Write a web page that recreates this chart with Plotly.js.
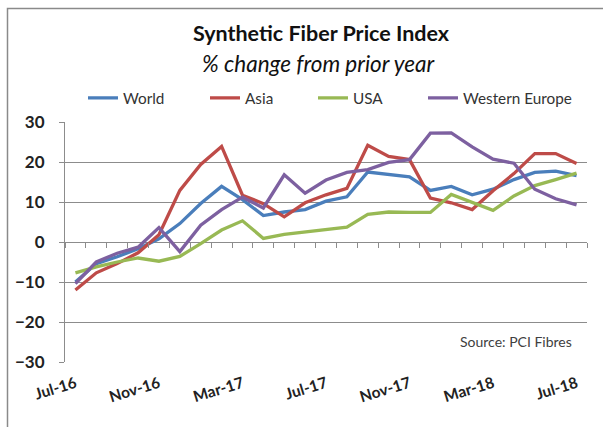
<!DOCTYPE html>
<html>
<head>
<meta charset="utf-8">
<script src="https://cdn.plot.ly/plotly-3.0.1.min.js"></script>
<style>html,body{margin:0;padding:0;background:#fff;}#chart{width:603px;height:427px;}</style>
</head>
<body>
<div id="chart"></div>
<script>
// Months Jul-16 .. Jul-18
const months = ['Jul-16','Aug-16','Sep-16','Oct-16','Nov-16','Dec-16','Jan-17','Feb-17','Mar-17','Apr-17','May-17','Jun-17',
                'Jul-17','Aug-17','Sep-17','Oct-17','Nov-17','Dec-17','Jan-18','Feb-18','Mar-18','Apr-18','May-18','Jun-18','Jul-18'];
const tickLabels = ['Jul-16','Nov-16','Mar-17','Jul-17','Nov-17','Mar-18','Jul-18'];
const world = [-10, -5.4, -3.7, -1.7, 0.8, 4.6, 9.6, 13.9, 10.6, 6.6, 7.5, 8.1, 10.2, 11.3, 17.5, 17.0, 16.3, 12.9, 13.9, 11.8, 13.2, 15.6, 17.4, 17.7, 16.6];
const asia = [-12, -7.7, -5.4, -2.7, 1.8, 12.9, 19.4, 23.9, 11.7, 9.6, 6.3, 9.8, 11.8, 13.4, 24.2, 21.4, 20.6, 11.0, 9.8, 8.1, 12.8, 17.1, 22.1, 22.1, 19.6];
const usa = [-7.7, -6.2, -5, -4, -4.8, -3.6, -0.4, 3.0, 5.3, 0.9, 1.9, 2.5, 3.2, 3.7, 6.9, 7.5, 7.4, 7.4, 11.9, 10, 7.9, 11.5, 14.1, 15.6, 17.2];
const westernEurope = [-10.4, -5, -2.8, -1.3, 3.6, -2.4, 4.2, 8.1, 11.2, 8.5, 16.8, 12.2, 15.5, 17.4, 18.1, 19.9, 20.6, 27.2, 27.3, 23.8, 20.7, 19.7, 13.2, 10.8, 9.3];
const seriesNames = ['World','Asia','USA','Western Europe'];
const yTicks = [-30,-20,-10,0,10,20,30];

const colors = ['#4A7EBB','#BE4B48','#98B954','#7D60A0'];
const FONT = 'Lato, "Open Sans", sans-serif';
const allSeries = [world, asia, usa, westernEurope];
const idx = months.map((m,i)=>i);
const legendIds = ['legend','legend2','legend3','legend4'];
const legendTextLeft = [123, 245, 353, 463]; // pixel where each legend label starts

const traces = allSeries.map((s,i)=>({
  type:'scatter', mode:'lines', name:seriesNames[i],
  x: idx, y: s, legend:legendIds[i],
  line:{color:colors[i], width:3.3}
}));

const grid = '#8C8C8C';
const layout = {
  width:603, height:427,
  margin:{l:65, r:16, t:122, b:65},
  paper_bgcolor:'#fff', plot_bgcolor:'#fff',
  font:{family:FONT, color:'#222'},
  showlegend:true,
  title:{text:'<b>Synthetic Fiber Price Index</b>', x:321/603, xanchor:'center', xref:'container',
         y:1-33/427, yanchor:'middle', yref:'container', font:{family:FONT, size:21.5, color:'#111'}},
  xaxis:{type:'linear', range:[-0.5,24.5], anchor:'free', position:0.5,
         tickvals:tickLabels.map(t=>months.indexOf(t)), ticktext:tickLabels,
         tickangle:-17, ticks:'', showgrid:false, zeroline:false, showline:false, ticklabelstandoff:129,
         minor:{tick0:-0.5, dtick:1, ticks:'outside', ticklen:5, tickcolor:grid, tickwidth:1, showgrid:false},
         tickfont:{family:FONT, size:15.5, color:'#222', weight:'bold'}, fixedrange:true},
  yaxis:{range:[-30,30], tickvals:yTicks, ticks:'outside', ticklen:5, tickcolor:grid,
         showgrid:true, gridcolor:grid, gridwidth:1, zeroline:false, ticklabelstandoff:11,
         showline:true, linecolor:grid, linewidth:1,
         tickfont:{family:FONT, size:17, color:'#222', weight:'bold'}, fixedrange:true},
  annotations:[
    {text:'<i>% change from prior year</i>', xref:'paper', yref:'paper', x:(319-65)/522, y:(362-63)/240,
     xanchor:'center', yanchor:'middle', showarrow:false, font:{family:FONT, size:22.5, color:'#111'}},
    {text:'Source: PCI Fibres', xref:'paper', yref:'paper', x:(574-65)/522, y:(362-341)/240,
     xanchor:'right', yanchor:'middle', showarrow:false, font:{family:FONT, size:14, color:'#404040'}}
  ],
  shapes:[
    {type:'rect', xref:'paper', yref:'paper', x0:(7.5-65)/522, x1:(610-65)/522, y0:(362-440)/240, y1:(362-8.5)/240,
     line:{color:'#8A8A8A', width:1.5}, fillcolor:'rgba(0,0,0,0)', layer:'below'}
  ]
};
legendIds.forEach((id,i)=>{
  layout[id] = {orientation:'h', x:(legendTextLeft[i]-33-72)/522, xanchor:'left', y:(362-98)/240, yanchor:'middle',
                font:{family:FONT, size:15.3, color:'#333'}, bgcolor:'rgba(0,0,0,0)', itemclick:false};
});
Plotly.newPlot('chart', traces, layout, {displayModeBar:false, staticPlot:true});
</script>
</body>
</html>
